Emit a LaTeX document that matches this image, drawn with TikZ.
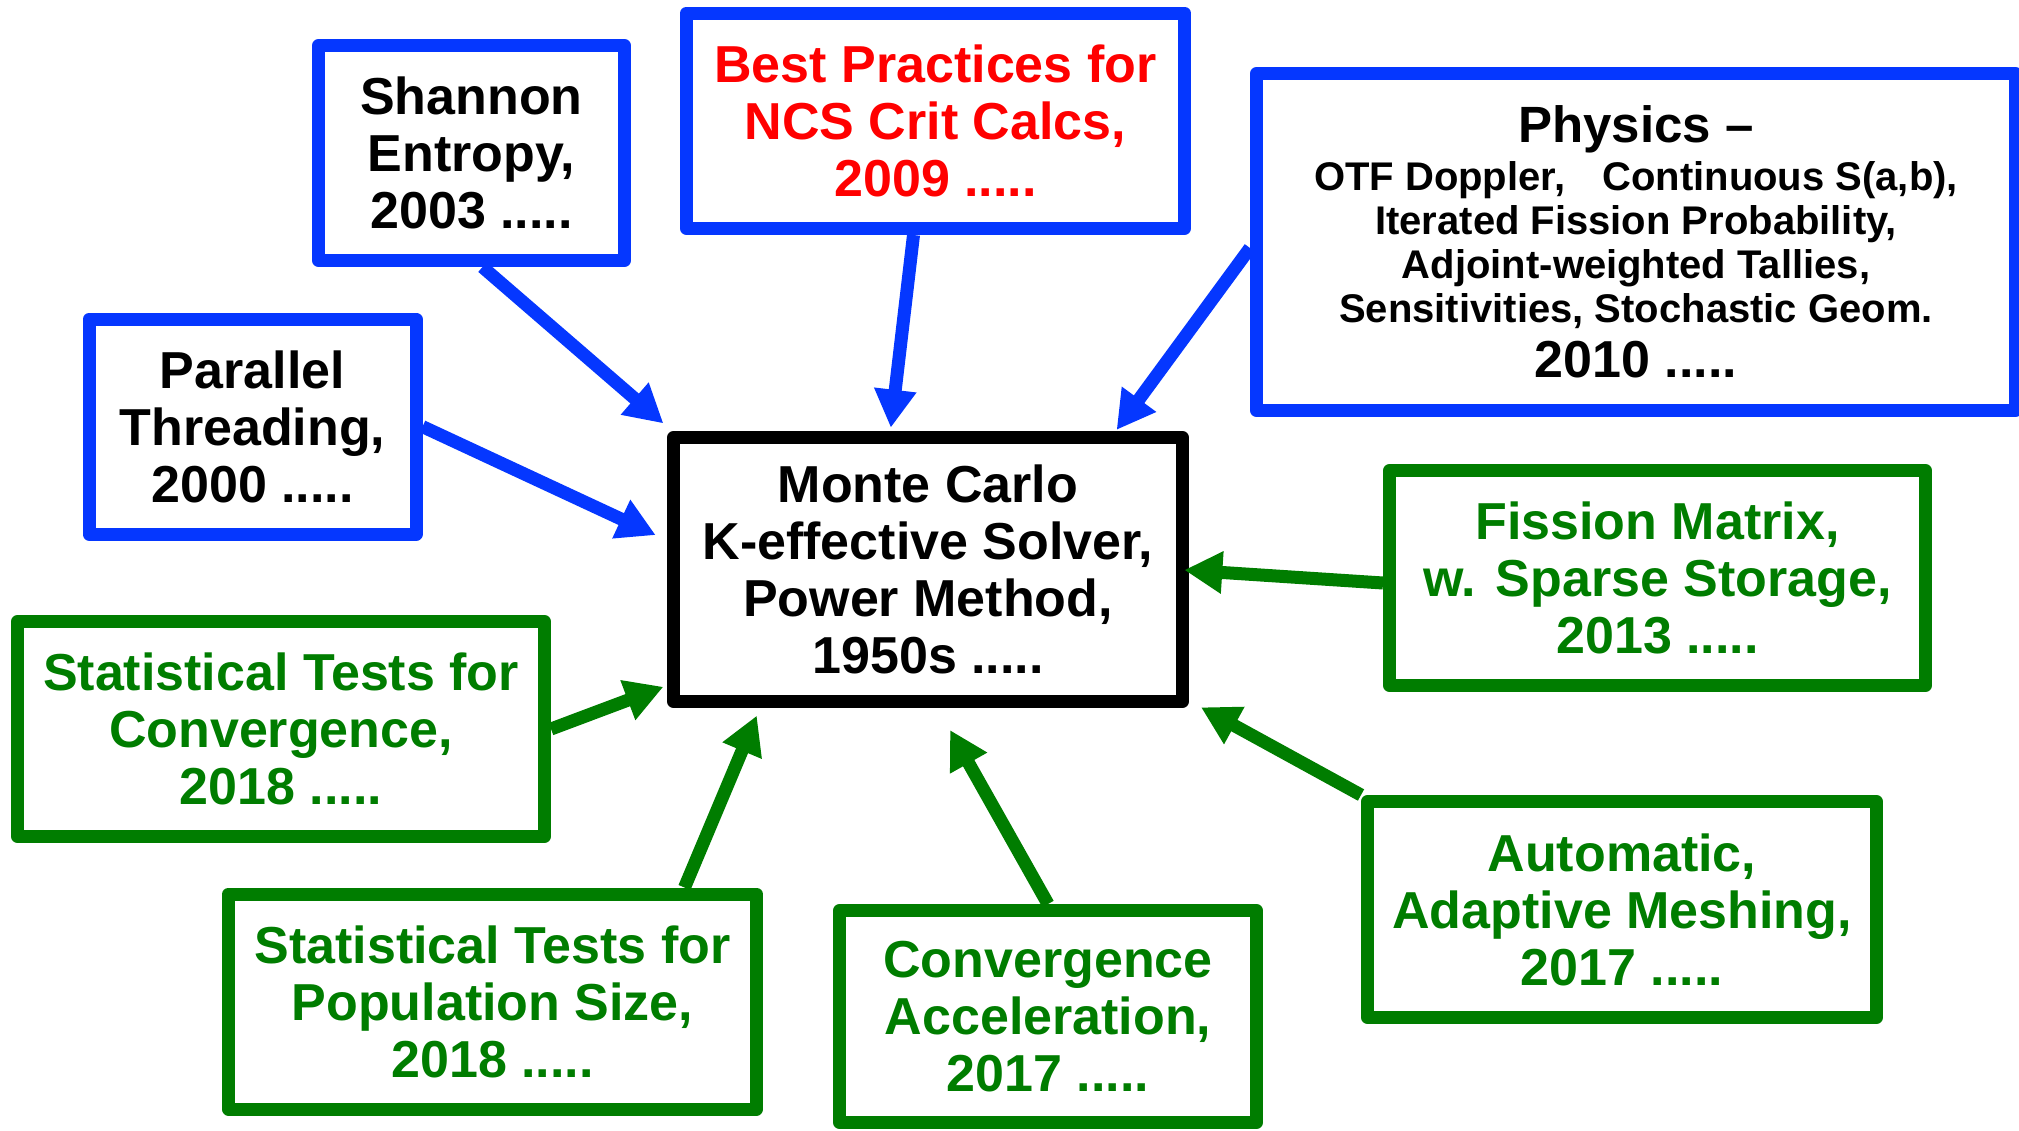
\documentclass[tikz,border=0pt]{standalone}
\usepackage{fontspec}
\setmainfont{Liberation Sans}
\usetikzlibrary{arrows.meta}
\definecolor{bblue}{RGB}{5,55,255}
\definecolor{ggreen}{RGB}{0,125,0}
\definecolor{rred}{RGB}{255,0,0}
\tikzset{
  box/.style={draw, line width=13pt, line join=round, rectangle, inner sep=0pt, align=center,
    font=\fontsize{52}{57}\selectfont\bfseries, fill=white},
  bluebox/.style={box, draw=bblue},
  greenbox/.style={box, draw=ggreen, text=ggreen},
  conn/.style={line width=13pt, -{Triangle[length=38pt,width=40pt]}},
  blueconn/.style={conn, draw=bblue, fill=bblue},
  greenconn/.style={conn, draw=ggreen, fill=ggreen},
}
\begin{document}
\begin{tikzpicture}[x=1pt,y=-1pt]
\useasboundingbox (0,0) rectangle (2019,1130);
% boxes
\node[bluebox, minimum width=306pt, minimum height=215pt] (shannon) at (471.5,153) {Shannon\\Entropy,\\2003 .....};
\node[bluebox, text=rred, minimum width=498pt, minimum height=215.5pt] (bp) at (935.5,120.75) {Best Practices for\\NCS Crit Calcs,\\2009 .....};
\node[bluebox, minimum width=759pt, minimum height=337pt, font=\fontsize{40}{44.2}\selectfont\bfseries] (phys) at (1636,242)
  {{\fontsize{51}{44.2}\selectfont Physics –}\\[3.4pt]
   OTF Doppler,\hspace{26pt} Continuous S(a,b),\\
   Iterated Fission Probability,\\
   Adjoint-weighted Tallies,\\
   Sensitivities, Stochastic Geom.\\[10.6pt]
   {\fontsize{52}{44.2}\selectfont 2010 .....}};
\node[bluebox, minimum width=327pt, minimum height=215pt] (par) at (252.5,426.6) {Parallel\\Threading,\\2000 .....};
\node[box, draw=black, minimum width=509pt, minimum height=264pt] (mc) at (928,569.5) {Monte Carlo\\K-effective Solver,\\Power Method,\\1950s .....};
\node[greenbox, minimum width=536pt, minimum height=215pt] (fis) at (1657.5,578) {Fission Matrix,\\w. Sparse Storage,\\2013 .....};
\node[greenbox, minimum width=527pt, minimum height=215pt] (sc) at (281,729) {Statistical Tests for\\Convergence,\\2018 .....};
\node[greenbox, minimum width=528pt, minimum height=215pt] (sp) at (492.5,1001.5) {Statistical Tests for\\Population Size,\\2018 .....};
\node[greenbox, minimum width=417pt, minimum height=212pt] (ca) at (1048,1016.5) {Convergence\\Acceleration,\\2017 .....};
\node[greenbox, minimum width=509pt, minimum height=216pt] (am) at (1622,909.5) {Automatic,\\Adaptive Meshing,\\2017 .....};
% arrow tips
\coordinate (t1) at (663.4,423.4);
\coordinate (t2) at (890.8,427.7);
\coordinate (t3) at (1116.6,429.9);
\coordinate (t4) at (655.7,535.1);
\coordinate (t5) at (1184.3,570);
\coordinate (t6) at (663.4,686.8);
\coordinate (t7) at (756.8,715.6);
\coordinate (t8) at (950,730);
\coordinate (t9) at (1201,707.3);
% connectors
\draw[blueconn] ([xshift=11pt]shannon.south) -- (t1);
\draw[blueconn] ([xshift=-22pt]bp.south) -- (t2);
\draw[blueconn] ([yshift=-6pt]phys.west) -- (t3);
\draw[blueconn] (par.east) -- (t4);
\draw[greenconn] ([yshift=-5pt]fis.west) -- (t5);
\draw[greenconn] (sc.east) -- (t6);
\draw[greenconn] ([xshift=192pt]sp.north) -- (t7);
\draw[greenconn] (ca.north) -- (t8);
\draw[greenconn] (am.north west) -- (t9);
\end{tikzpicture}
\end{document}
